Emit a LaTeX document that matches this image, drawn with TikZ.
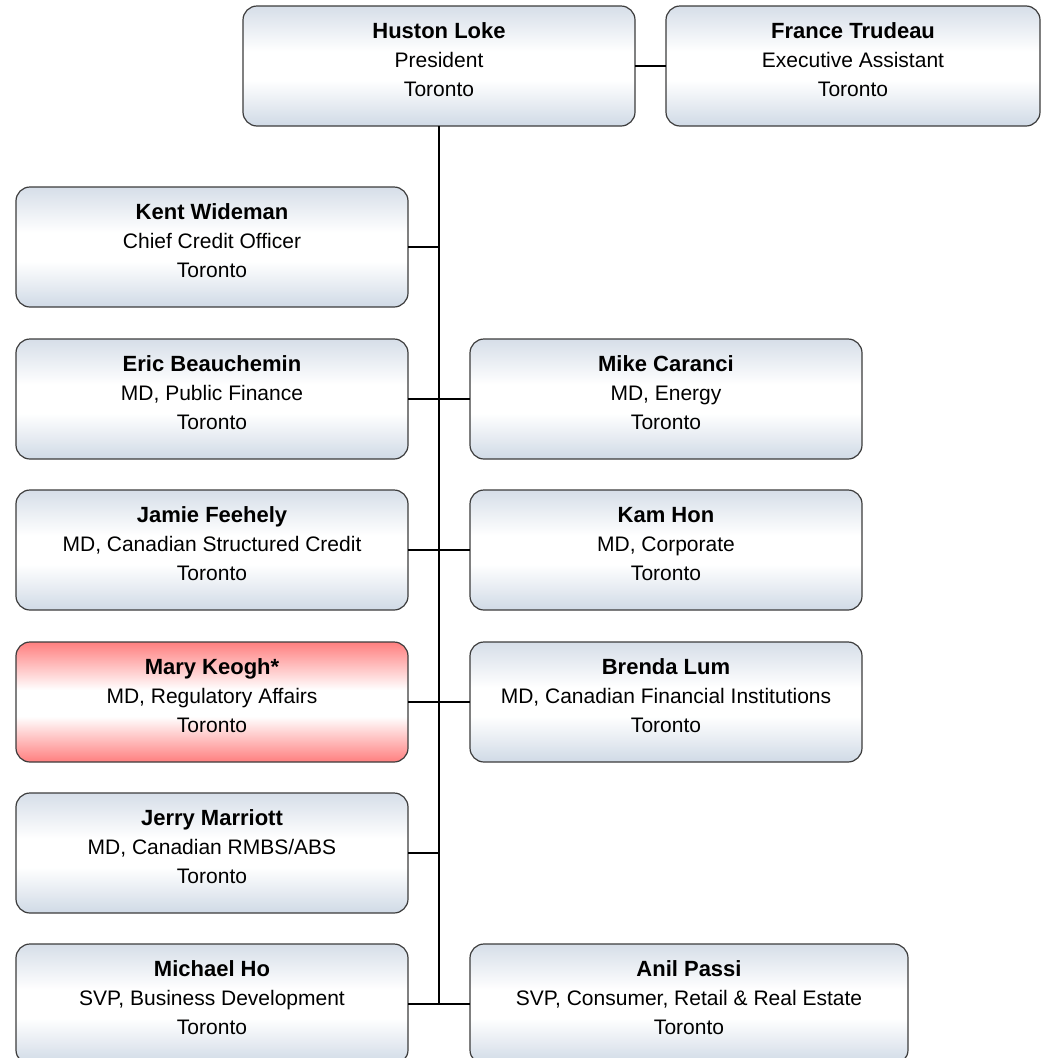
\documentclass[tikz,border=0pt]{standalone}
\usepackage{fontspec}
\setmainfont{Liberation Sans}
\definecolor{btop}{HTML}{D6DEE8}
\definecolor{bbot}{HTML}{D0DAE6}
\definecolor{rtop}{HTML}{FF7F7F}
\definecolor{rbot}{HTML}{FF7F7F}
\definecolor{edge}{HTML}{3C3C3C}
\pgfdeclareverticalshading{blueshade}{100bp}{color(0bp)=(bbot); color(25bp)=(bbot); color(44bp)=(white); color(56bp)=(white); color(75bp)=(btop); color(100bp)=(btop)}
\pgfdeclareverticalshading{redshade}{100bp}{color(0bp)=(rbot); color(25bp)=(rbot); color(44bp)=(white); color(55bp)=(white); color(75bp)=(rtop); color(100bp)=(rtop)}
\newcommand{\orgtext}[4]{\parbox[c][120pt][t]{#1pt}{\centering\rule{0pt}{32pt}{\fontsize{22}{29}\selectfont\bfseries #2}\\#3\\#4}}
\tikzset{
  orgbox/.style={draw=edge, line width=1.2pt, rounded corners=14pt, shading=blueshade, inner sep=0pt, outer sep=0pt, font=\fontsize{21}{29}\selectfont},
  redbox/.style={orgbox, shading=redshade},
  link/.style={draw=black, line width=2pt}
}
\begin{document}
\begin{tikzpicture}[x=1pt,y=-1pt]
\useasboundingbox (0,0) rectangle (1042,1058);
\node[orgbox] (hl) at (439,66) {\orgtext{392}{Huston Loke}{President}{Toronto}};
\node[orgbox] (ft) at (853,66) {\orgtext{374}{France Trudeau}{Executive Assistant}{Toronto}};
\node[orgbox] (kw) at (212,247) {\orgtext{392}{Kent Wideman}{Chief Credit Officer}{Toronto}};
\node[orgbox] (eb) at (212,399) {\orgtext{392}{Eric Beauchemin}{MD, Public Finance}{Toronto}};
\node[orgbox] (mc) at (666,399) {\orgtext{392}{Mike Caranci}{MD, Energy}{Toronto}};
\node[orgbox] (jf) at (212,550) {\orgtext{392}{Jamie Feehely}{MD, Canadian Structured Credit}{Toronto}};
\node[orgbox] (kh) at (666,550) {\orgtext{392}{Kam Hon}{MD, Corporate}{Toronto}};
\node[redbox] (mk) at (212,702) {\orgtext{392}{Mary Keogh*}{MD, Regulatory Affairs}{Toronto}};
\node[orgbox] (bl) at (666,702) {\orgtext{392}{Brenda Lum}{MD, Canadian Financial Institutions}{Toronto}};
\node[orgbox] (jm) at (212,853) {\orgtext{392}{Jerry Marriott}{MD, Canadian RMBS/ABS}{Toronto}};
\node[orgbox] (mh) at (212,1004) {\orgtext{392}{Michael Ho}{SVP, Business Development}{Toronto}};
\node[orgbox] (ap) at (689,1004) {\orgtext{438}{Anil Passi}{SVP, Consumer, Retail \& Real Estate}{Toronto}};
\draw[link] (hl.east) -- (ft.west);
\draw[link] (hl.south) -- (hl.south |- mh.east);
\draw[link] (kw.east) -- (kw.east -| hl.south);
\draw[link] (eb.east) -- (mc.west);
\draw[link] (jf.east) -- (kh.west);
\draw[link] (mk.east) -- (bl.west);
\draw[link] (jm.east) -- (jm.east -| hl.south);
\draw[link] (mh.east) -- (ap.west);
\end{tikzpicture}
\end{document}
